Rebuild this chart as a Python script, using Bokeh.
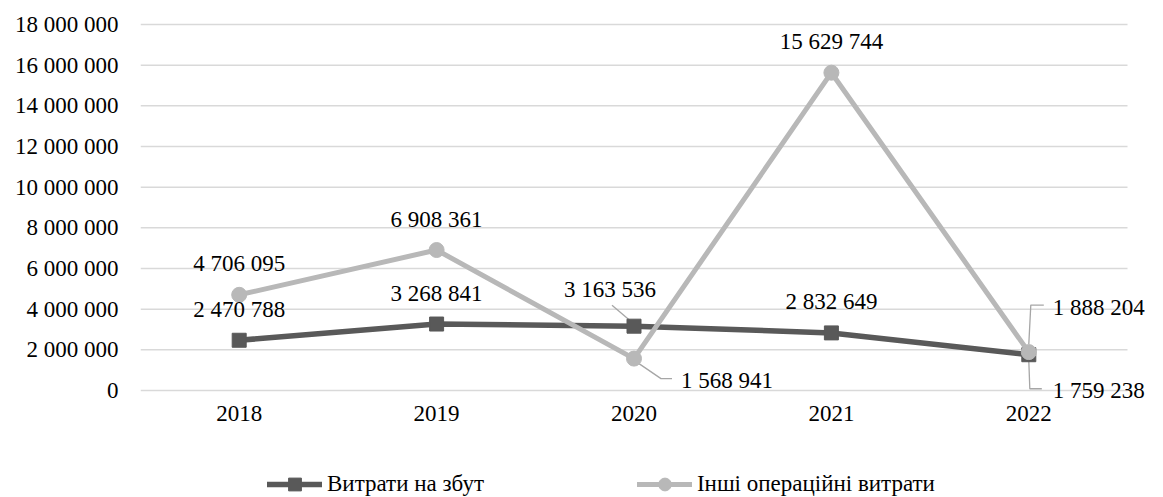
from bokeh.plotting import figure
from bokeh.layouts import column
from bokeh.models import Range1d, FixedTicker, Legend, LegendItem, ColumnDataSource
from bokeh.embed import file_html
from bokeh.resources import INLINE

years = ["2018", "2019", "2020", "2021", "2022"]
sales = [2470788, 3268841, 3163536, 2832649, 1759238]
other = [4706095, 6908361, 1568941, 15629744, 1888204]
series_names = ["Витрати на збут", "Інші операційні витрати"]
y_ticks = [0, 2000000, 4000000, 6000000, 8000000, 10000000, 12000000, 14000000, 16000000, 18000000]
y_tick_labels = ["0", "2 000 000", "4 000 000", "6 000 000", "8 000 000", "10 000 000",
                 "12 000 000", "14 000 000", "16 000 000", "18 000 000"]

FONT = "Liberation Serif"
FS = "23px"
DARK = "#595959"
LIGHT = "#b8b8b8"
GRID = "#d9d9d9"
LEAD = "#a6a6a6"

def fmt(v):
    return f"{v:,}".replace(",", " ")

W, H = 1163, 497
# plot area (value axis box) in page pixels
PL, PR, PT, PB = 140, 1127, 24, 390
# frame in page pixels
FL, FR, FT, FB = 140, 1163, 10, 425
H1 = 470
YMAX = y_ticks[-1]
n = len(years)
xs = [i + 0.5 for i in range(n)]
PX_X = (PR - PL) / n
PX_Y = (PB - PT) / YMAX

def off(xd, yd, dx, dy):
    return xd + dx / PX_X, yd - dy / PX_Y

p = figure(width=W, height=H1, output_backend="svg", toolbar_location=None,
           x_range=Range1d(-(PL - FL) / PX_X, n + (FR - PR) / PX_X),
           y_range=Range1d(-(FB - PB) / PX_Y, YMAX + (PT - FT) / PX_Y),
           min_border_left=FL, min_border_right=W - FR, min_border_top=FT,
           min_border_bottom=H1 - FB)
p.outline_line_color = None
p.background_fill_color = "white"
p.border_fill_color = "white"
p.xgrid.visible = False
p.ygrid.visible = False

# horizontal gridlines across the category area
p.segment(x0=[0] * len(y_ticks), x1=[n] * len(y_ticks), y0=y_ticks, y1=y_ticks,
          line_color=GRID, line_width=1.5)

p.yaxis.ticker = FixedTicker(ticks=y_ticks)
p.yaxis.major_label_overrides = {t: s for t, s in zip(y_ticks, y_tick_labels)}
p.xaxis.ticker = FixedTicker(ticks=xs)
p.xaxis.major_label_overrides = {x: y for x, y in zip(xs, years)}
p.xaxis.fixed_location = 0
for ax in (p.xaxis, p.yaxis):
    ax.axis_line_color = None
    ax.major_tick_line_color = None
    ax.minor_tick_line_color = None
    ax.major_label_text_font = FONT
    ax.major_label_text_font_size = FS
    ax.major_label_text_color = "black"
    ax.major_tick_out = 0
    ax.major_tick_in = 0
p.yaxis.major_label_standoff = 22
p.xaxis.major_label_standoff = 15

# leader lines
lead_xs, lead_ys = [], []
def leader(i, v, pts):
    xx, yy = [], []
    for dx, dy in pts:
        a, b = off(xs[i], v, dx, dy)
        xx.append(a); yy.append(b)
    lead_xs.append(xx); lead_ys.append(yy)

leader(2, sales[2], [(-22, -21), (-2, -4)])
leader(2, other[2], [(5, 5), (27, 20), (38, 20)])
leader(4, other[4], [(15, -47), (2, -47), (0, -8)])
leader(4, sales[4], [(0, 6), (1, 34), (13, 34)])
p.multi_line(lead_xs, lead_ys, line_color=LEAD, line_width=1.3)

p.line(xs, sales, line_color=DARK, line_width=5.5, line_join="round")
p.scatter(xs, sales, marker="square", size=14, fill_color=DARK, line_color=DARK)
p.line(xs, other, line_color=LIGHT, line_width=5, line_join="round")
p.scatter(xs, other, marker="circle", size=15, fill_color=LIGHT, line_color=LIGHT)

# data labels
c_x, c_y, c_t, c_dx, c_dy = [], [], [], [], []
l_x, l_y, l_t, l_dx, l_dy = [], [], [], [], []
sales_off = [(0, -31, "c"), (0, -31, "c"), (-24, -37, "c"), (0, -31, "c"), (24, 36, "l")]
other_off = [(0, -31, "c"), (0, -31, "c"), (47, 22, "l"), (0, -31, "c"), (24, -45, "l")]
for vals, offs in ((sales, sales_off), (other, other_off)):
    for i, v in enumerate(vals):
        dx, dy, a = offs[i]
        if a == "c":
            c_x.append(xs[i]); c_y.append(v); c_t.append(fmt(v)); c_dx.append(dx); c_dy.append(dy)
        else:
            l_x.append(xs[i]); l_y.append(v); l_t.append(fmt(v)); l_dx.append(dx); l_dy.append(dy)

src_c = ColumnDataSource(dict(x=c_x, y=c_y, t=c_t, dx=c_dx, dy=c_dy))
src_l = ColumnDataSource(dict(x=l_x, y=l_y, t=l_t, dx=l_dx, dy=l_dy))
p.text("x", "y", text="t", x_offset="dx", y_offset="dy", source=src_c,
       text_align="center", text_baseline="middle", text_font=FONT,
       text_font_size=FS, text_color="black")
p.text("x", "y", text="t", x_offset="dx", y_offset="dy", source=src_l,
       text_align="left", text_baseline="middle", text_font=FONT,
       text_font_size=FS, text_color="black")

# legend strip below the chart (series renderers lie outside its visible range)
H2 = H - H1
lg = figure(width=W, height=H2, output_backend="svg", toolbar_location=None,
            x_range=Range1d(-100, -99), y_range=Range1d(-100, -99),
            min_border_left=0, min_border_right=0, min_border_top=0, min_border_bottom=0)
lg.outline_line_color = None
lg.axis.visible = False
lg.grid.visible = False
g1l = lg.line(xs, sales, line_color=DARK, line_width=5.5, line_cap="round")
g1m = lg.scatter(xs, sales, marker="square", size=14, fill_color=DARK, line_color=DARK)
g2l = lg.line(xs, other, line_color=LIGHT, line_width=5, line_cap="round")
g2m = lg.scatter(xs, other, marker="circle", size=15, fill_color=LIGHT, line_color=LIGHT)
legend = Legend(items=[LegendItem(label=series_names[0], renderers=[g1l, g1m]),
                       LegendItem(label=series_names[1], renderers=[g2l, g2m])],
                orientation="horizontal", location=(127, -3),
                glyph_width=55, glyph_height=32, label_standoff=5, spacing=153,
                padding=0, margin=0, border_line_color=None, background_fill_alpha=0,
                label_text_font=FONT, label_text_font_size=FS, label_text_color="black")
lg.add_layout(legend)

layout = column(p, lg, spacing=0)
open("out.html", "w").write(file_html(layout, INLINE))
